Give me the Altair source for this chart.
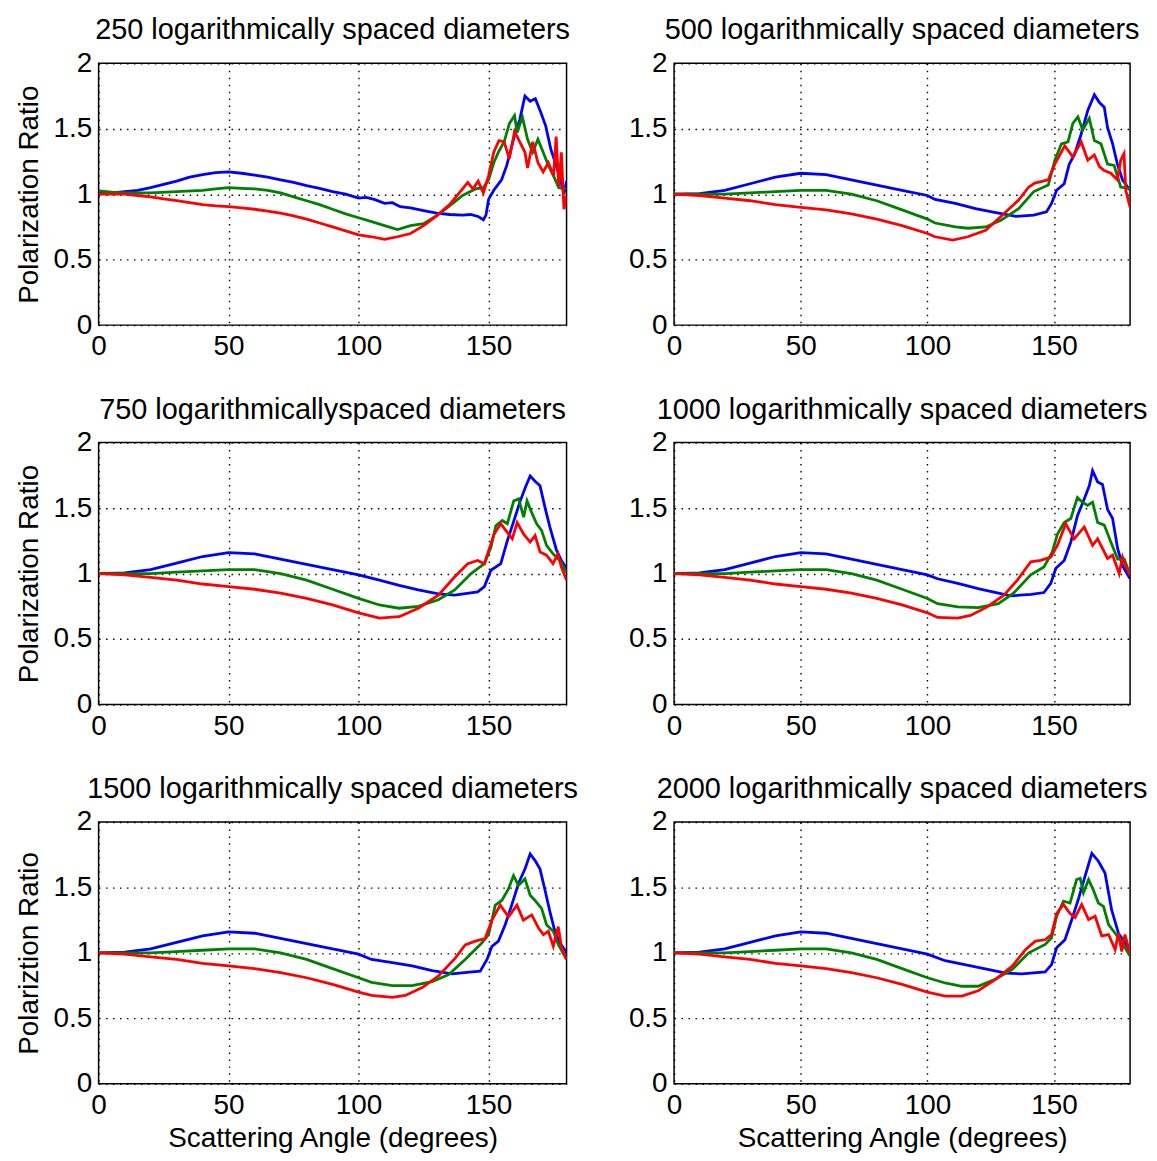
import altair as alt
import pandas as pd

FONT = "Liberation Sans"
FS = 28
TITLE_FS = 29

# ---------------- data (angle in degrees, polarization ratio) ----------------
# shared start of the curves for the smoother panels (500 - 2000 diameters)
HEAD_BLUE = [(0, 1.0), (10, 1.005), (20, 1.03), (30, 1.08), (40, 1.13), (50, 1.16),
             (60, 1.15), (70, 1.11), (80, 1.07), (90, 1.03), (100, 0.99)]
HEAD_GREEN = [(0, 1.0), (10, 1.0), (20, 1.0), (30, 1.01), (40, 1.02), (50, 1.03),
              (60, 1.03), (70, 1.0), (80, 0.95), (90, 0.88), (100, 0.81)]
HEAD_RED = [(0, 1.0), (10, 0.99), (20, 0.97), (30, 0.95), (40, 0.92), (50, 0.90),
            (60, 0.88), (70, 0.85), (80, 0.81), (90, 0.76), (100, 0.70)]

# 250 diameters (noisy)
BLUE_250 = [(0, 1.01), (5, 1.01), (10, 1.02), (15, 1.03), (20, 1.05), (25, 1.075), (30, 1.10),
            (35, 1.13), (40, 1.15), (45, 1.165), (50, 1.17), (55, 1.16), (60, 1.145), (65, 1.13),
            (70, 1.11), (75, 1.09), (80, 1.065), (85, 1.045), (90, 1.02), (95, 1.0), (100, 0.97),
            (103, 0.975), (106, 0.96), (110, 0.93), (113, 0.935), (116, 0.905), (120, 0.895),
            (125, 0.875), (130, 0.855), (135, 0.845), (140, 0.84), (143, 0.845), (146, 0.83),
            (148, 0.805), (149, 0.84), (150, 0.96), (152, 1.03), (155, 1.11), (157, 1.22),
            (160, 1.45), (162, 1.57), (164, 1.75), (166, 1.71), (168, 1.73), (170, 1.63),
            (172, 1.52), (174, 1.34), (176, 1.22), (178, 1.08), (179, 1.0), (180, 1.1)]
GREEN_250 = [(0, 1.025), (5, 1.015), (10, 1.01), (20, 1.01), (30, 1.02), (40, 1.03), (45, 1.04),
             (50, 1.05), (55, 1.045), (60, 1.04), (65, 1.03), (70, 1.01), (75, 0.98), (80, 0.95),
             (85, 0.92), (90, 0.885), (95, 0.85), (100, 0.82), (105, 0.79), (110, 0.76),
             (115, 0.73), (120, 0.76), (125, 0.775), (130, 0.835), (135, 0.91), (140, 0.99),
             (143, 1.02), (145, 1.04), (148, 1.05), (150, 1.11), (152, 1.24), (154, 1.33),
             (156, 1.40), (158, 1.54), (160, 1.60), (161, 1.47), (163, 1.59), (165, 1.42),
             (167, 1.32), (169, 1.42), (171, 1.32), (173, 1.22), (175, 1.14), (177, 1.05),
             (180, 1.04)]
RED_250 = [(0, 1.0), (5, 1.0), (10, 1.0), (15, 0.99), (20, 0.98), (25, 0.965), (30, 0.95),
           (35, 0.935), (40, 0.92), (45, 0.91), (50, 0.905), (55, 0.895), (60, 0.885), (65, 0.87),
           (70, 0.855), (75, 0.835), (80, 0.81), (85, 0.78), (90, 0.75), (95, 0.72), (100, 0.69),
           (105, 0.675), (110, 0.655), (115, 0.675), (120, 0.70), (125, 0.76), (130, 0.835),
           (135, 0.92), (140, 1.04), (142, 1.09), (144, 1.04), (146, 1.10), (148, 1.01),
           (150, 1.14), (152, 1.32), (154, 1.41), (156, 1.40), (158, 1.27), (160, 1.48),
           (162, 1.40), (164, 1.32), (165, 1.20), (167, 1.40), (169, 1.24), (171, 1.17),
           (173, 1.24), (175, 1.14), (176, 1.44), (177, 1.06), (178, 1.32), (179, 0.885),
           (180, 0.99)]

# 500 diameters
BLUE_500 = [(103, 0.96), (111, 0.93), (119, 0.89), (127, 0.86), (135, 0.83), (142, 0.84),
            (147, 0.865), (149, 0.93), (151, 1.03), (154, 1.08), (156, 1.23), (158, 1.30),
            (160.7, 1.46), (163.3, 1.64), (165.9, 1.76), (167.9, 1.70), (169.8, 1.665),
            (171.1, 1.51), (173.1, 1.385), (175, 1.23), (177, 1.11), (180, 1.03)]
GREEN_500 = [(103, 0.78), (111, 0.75), (116, 0.74), (123, 0.75), (129, 0.80), (136, 0.89),
             (142, 1.02), (147.7, 1.07), (150.3, 1.26), (152.9, 1.385), (155.5, 1.40),
             (157.4, 1.54), (159.4, 1.59), (161.3, 1.49), (163.9, 1.58), (165.9, 1.41),
             (168.5, 1.385), (171.1, 1.23), (173.7, 1.22), (176.3, 1.055), (180, 1.04)]
RED_500 = [(103, 0.675), (110, 0.65), (116, 0.675), (123, 0.725), (129, 0.83), (136, 0.955),
           (140, 1.055), (142.4, 1.085), (147.7, 1.11), (150.3, 1.23), (154.2, 1.37),
           (157.4, 1.285), (160.7, 1.40), (163.3, 1.26), (165.9, 1.30), (167.9, 1.21),
           (169.8, 1.18), (172.4, 1.16), (175, 1.11), (176.3, 1.26), (177.6, 1.31),
           (178.3, 1.03), (180, 0.90)]

# 750 diameters
BLUE_750 = [(108, 0.95), (115.6, 0.91), (123, 0.875), (130.7, 0.845), (137, 0.835),
            (145.8, 0.86), (148.4, 0.90), (150.9, 1.025), (154.7, 1.075), (157.2, 1.25),
            (159.7, 1.40), (162.2, 1.555), (164.1, 1.655), (166, 1.745), (167.9, 1.705),
            (169.8, 1.67), (171.7, 1.505), (173.6, 1.355), (176.1, 1.18), (178, 1.10),
            (180, 1.04)]
GREEN_750 = [(108, 0.76), (115.6, 0.735), (123, 0.75), (130.7, 0.80), (137, 0.875),
             (143.3, 1.0), (148.4, 1.075), (150.9, 1.20), (152.8, 1.365), (155.3, 1.405),
             (157.2, 1.38), (159.7, 1.555), (161.6, 1.57), (163.5, 1.43), (164.8, 1.555),
             (166.6, 1.465), (168.5, 1.38), (170.4, 1.33), (172.3, 1.215), (174.8, 1.15),
             (177.4, 1.10), (180, 1.01)]
RED_750 = [(108, 0.66), (115.6, 0.67), (123, 0.735), (130.7, 0.835), (137, 0.975),
           (142, 1.075), (145.8, 1.10), (148.4, 1.075), (150.3, 1.19), (152.1, 1.30),
           (154.7, 1.38), (157.2, 1.315), (159.1, 1.265), (161, 1.39), (163.5, 1.30),
           (166, 1.24), (167.9, 1.29), (169.8, 1.165), (172.3, 1.14), (174.8, 1.075),
           (176.7, 1.15), (178, 1.05), (180, 0.95)]

# 1000 diameters
BLUE_1000 = [(104, 0.96), (112, 0.925), (120, 0.885), (128, 0.85), (133, 0.83), (141, 0.84),
             (146, 0.855), (148.7, 0.925), (150.7, 1.04), (154, 1.10), (156.6, 1.24),
             (159.2, 1.44), (161.9, 1.57), (163.9, 1.67), (165.2, 1.785), (167.2, 1.70),
             (169.1, 1.68), (171.1, 1.49), (173.1, 1.42), (175.1, 1.19), (177, 1.06),
             (180, 0.96)]
GREEN_1000 = [(104, 0.77), (112, 0.745), (120, 0.74), (128, 0.77), (134, 0.85),
              (140.8, 0.99), (146, 1.05), (149.3, 1.165), (151.3, 1.30), (154, 1.39),
              (156.6, 1.42), (159.2, 1.58), (161.2, 1.545), (163.2, 1.52), (165.2, 1.545),
              (167.2, 1.39), (169.8, 1.37), (172.4, 1.24), (175.1, 1.11), (177.7, 1.11),
              (180, 0.99)]
RED_1000 = [(104, 0.665), (112, 0.66), (117, 0.68), (123.6, 0.745), (130.2, 0.835),
            (135.5, 0.95), (140.8, 1.09), (144.7, 1.10), (148.7, 1.125), (151.3, 1.215),
            (154.6, 1.38), (157.9, 1.265), (161.9, 1.355), (165.2, 1.215), (167.2, 1.265),
            (171.1, 1.115), (173.1, 1.14), (175.7, 1.0), (177, 1.125), (178.4, 1.05),
            (180, 0.99)]

# 1500 diameters
BLUE_1500 = [(105, 0.95), (113, 0.925), (120.6, 0.90), (128.3, 0.865), (136, 0.84),
             (143.6, 0.855), (146.8, 0.86), (149.4, 0.95), (151.3, 1.05), (153.8, 1.09),
             (156.4, 1.215), (158.9, 1.365), (161.5, 1.53), (164, 1.64), (166, 1.755),
             (167.9, 1.705), (169.8, 1.64), (171.7, 1.48), (173.6, 1.315), (175.5, 1.165),
             (177.5, 1.075), (180, 1.0)]
GREEN_1500 = [(105, 0.775), (113, 0.75), (120.6, 0.75), (128.3, 0.78), (134.7, 0.835),
              (141, 0.95), (147.4, 1.075), (150, 1.14), (152.6, 1.365), (155.1, 1.40),
              (157.7, 1.49), (159.6, 1.59), (161.5, 1.515), (164, 1.565), (166, 1.44),
              (167.9, 1.40), (170.4, 1.34), (172.3, 1.215), (174.9, 1.165), (176.8, 1.065),
              (180, 0.95)]
RED_1500 = [(105, 0.675), (113, 0.66), (118, 0.675), (124.5, 0.735), (130.8, 0.825),
            (137.2, 0.96), (141, 1.06), (144.9, 1.09), (148.7, 1.11), (151.3, 1.25),
            (154.5, 1.365), (157.7, 1.275), (160.9, 1.365), (163.4, 1.25), (166.6, 1.29),
            (169.2, 1.19), (171.1, 1.14), (173, 1.165), (174.9, 1.05), (176.8, 1.20),
            (178.1, 1.04), (180, 0.95)]

# 2000 diameters
BLUE_2000 = [(107, 0.94), (120, 0.89), (131, 0.845), (137.3, 0.84), (146.5, 0.855),
             (149, 0.91), (151, 1.04), (154.3, 1.10), (157, 1.255), (159.6, 1.41),
             (162.2, 1.585), (164.9, 1.76), (167.5, 1.70), (170.1, 1.61), (172.7, 1.33),
             (175.4, 1.15), (178, 1.08), (180, 1.01)]
GREEN_2000 = [(107, 0.77), (113.6, 0.745), (120, 0.745), (127, 0.80), (133.6, 0.875),
              (140, 1.0), (146.5, 1.065), (149, 1.115), (151, 1.28), (153.7, 1.395),
              (156.3, 1.38), (158.9, 1.56), (160.3, 1.57), (161.6, 1.46), (163.6, 1.56),
              (165.5, 1.48), (167.5, 1.38), (169.5, 1.355), (171.5, 1.215), (174.1, 1.15),
              (176.7, 1.08), (180, 0.975)]
RED_2000 = [(107, 0.67), (113.6, 0.67), (120, 0.71), (127, 0.80), (133.6, 0.90),
            (138.7, 1.025), (142.6, 1.09), (146.5, 1.10), (149, 1.14), (151, 1.30),
            (153.7, 1.37), (156.3, 1.30), (158.3, 1.27), (160.9, 1.37), (163.6, 1.255),
            (166.2, 1.28), (168.8, 1.13), (171.5, 1.14), (174.1, 1.025), (175.4, 1.15),
            (176.7, 1.01), (178, 1.14), (180, 0.99)]

TITLES = ["250 logarithmically spaced diameters", "500 logarithmically spaced diameters",
          "750 logarithmicallyspaced diameters", "1000 logarithmically spaced diameters",
          "1500 logarithmically spaced diameters", "2000 logarithmically spaced diameters"]
Y_TITLES = ["Polarization Ratio", "Polarization Ratio", "Polariztion Ratio"]
X_TITLE = "Scattering Angle (degrees)"
X_TICKS = [0, 50, 100, 150]
Y_TICKS = [0, 0.5, 1, 1.5, 2]
COLORS = ["#0000ff", "#008000", "#ff0000"]

LEFT_W, RIGHT_W, PANEL_H = 470, 458, 263


def make_panel(title, blue, green, red, ytitle, xtitle, width):
    xaxis = alt.Axis(values=X_TICKS, grid=True, ticks=False, domain=False, labelPadding=8,
                     labelFlush=False, labelOverlap=False, titlePadding=5)
    yaxis = alt.Axis(values=Y_TICKS, grid=True, ticks=False, domain=False, labelPadding=7,
                     labelExpr="'' + datum.value", labelOverlap=False, titlePadding=9)
    layers = []
    for pts, col in ((blue, COLORS[0]), (green, COLORS[1]), (red, COLORS[2])):
        df = pd.DataFrame(pts, columns=["angle", "ratio"])
        layers.append(
            alt.Chart(df).mark_line(color=col, strokeWidth=2.8, clip=True).encode(
                x=alt.X("angle:Q", scale=alt.Scale(domain=[0, 180], nice=False, zero=False),
                        axis=xaxis, title=xtitle),
                y=alt.Y("ratio:Q", scale=alt.Scale(domain=[0, 2], nice=False),
                        axis=yaxis, title=ytitle),
            )
        )
    return alt.layer(*layers).properties(
        width=width, height=PANEL_H,
        title=alt.TitleParams(title, fontSize=TITLE_FS, font=FONT, fontWeight="normal",
                              anchor="middle", color="black", offset=4),
    )


p250 = make_panel(TITLES[0], BLUE_250, GREEN_250, RED_250, Y_TITLES[0], None, LEFT_W)
p500 = make_panel(TITLES[1], HEAD_BLUE + BLUE_500, HEAD_GREEN + GREEN_500, HEAD_RED + RED_500,
                  None, None, RIGHT_W)
p750 = make_panel(TITLES[2], HEAD_BLUE + BLUE_750, HEAD_GREEN + GREEN_750, HEAD_RED + RED_750,
                  Y_TITLES[1], None, LEFT_W)
p1000 = make_panel(TITLES[3], HEAD_BLUE + BLUE_1000, HEAD_GREEN + GREEN_1000,
                   HEAD_RED + RED_1000, None, None, RIGHT_W)
p1500 = make_panel(TITLES[4], HEAD_BLUE + BLUE_1500, HEAD_GREEN + GREEN_1500,
                   HEAD_RED + RED_1500, Y_TITLES[2], X_TITLE, LEFT_W)
p2000 = make_panel(TITLES[5], HEAD_BLUE + BLUE_2000, HEAD_GREEN + GREEN_2000,
                   HEAD_RED + RED_2000, None, X_TITLE, RIGHT_W)

chart = alt.concat(p250, p500, p750, p1000, p1500, p2000, columns=2,
                   spacing={"row": 118, "column": 108}, bounds="flush").properties(
    padding={"left": 7, "top": 5, "right": 0, "bottom": 0},
    background="white",
).configure_view(
    stroke="black", strokeWidth=1.5
).configure_axis(
    labelFont=FONT, labelFontSize=FS, labelColor="black",
    titleFont=FONT, titleFontSize=FS, titleColor="black", titleFontWeight="normal",
    gridColor="black", gridDash=[1.5, 5.5], gridWidth=1.4, gridOpacity=1,
)

chart.save("out.html", embed_options={"renderer": "svg", "actions": False})
